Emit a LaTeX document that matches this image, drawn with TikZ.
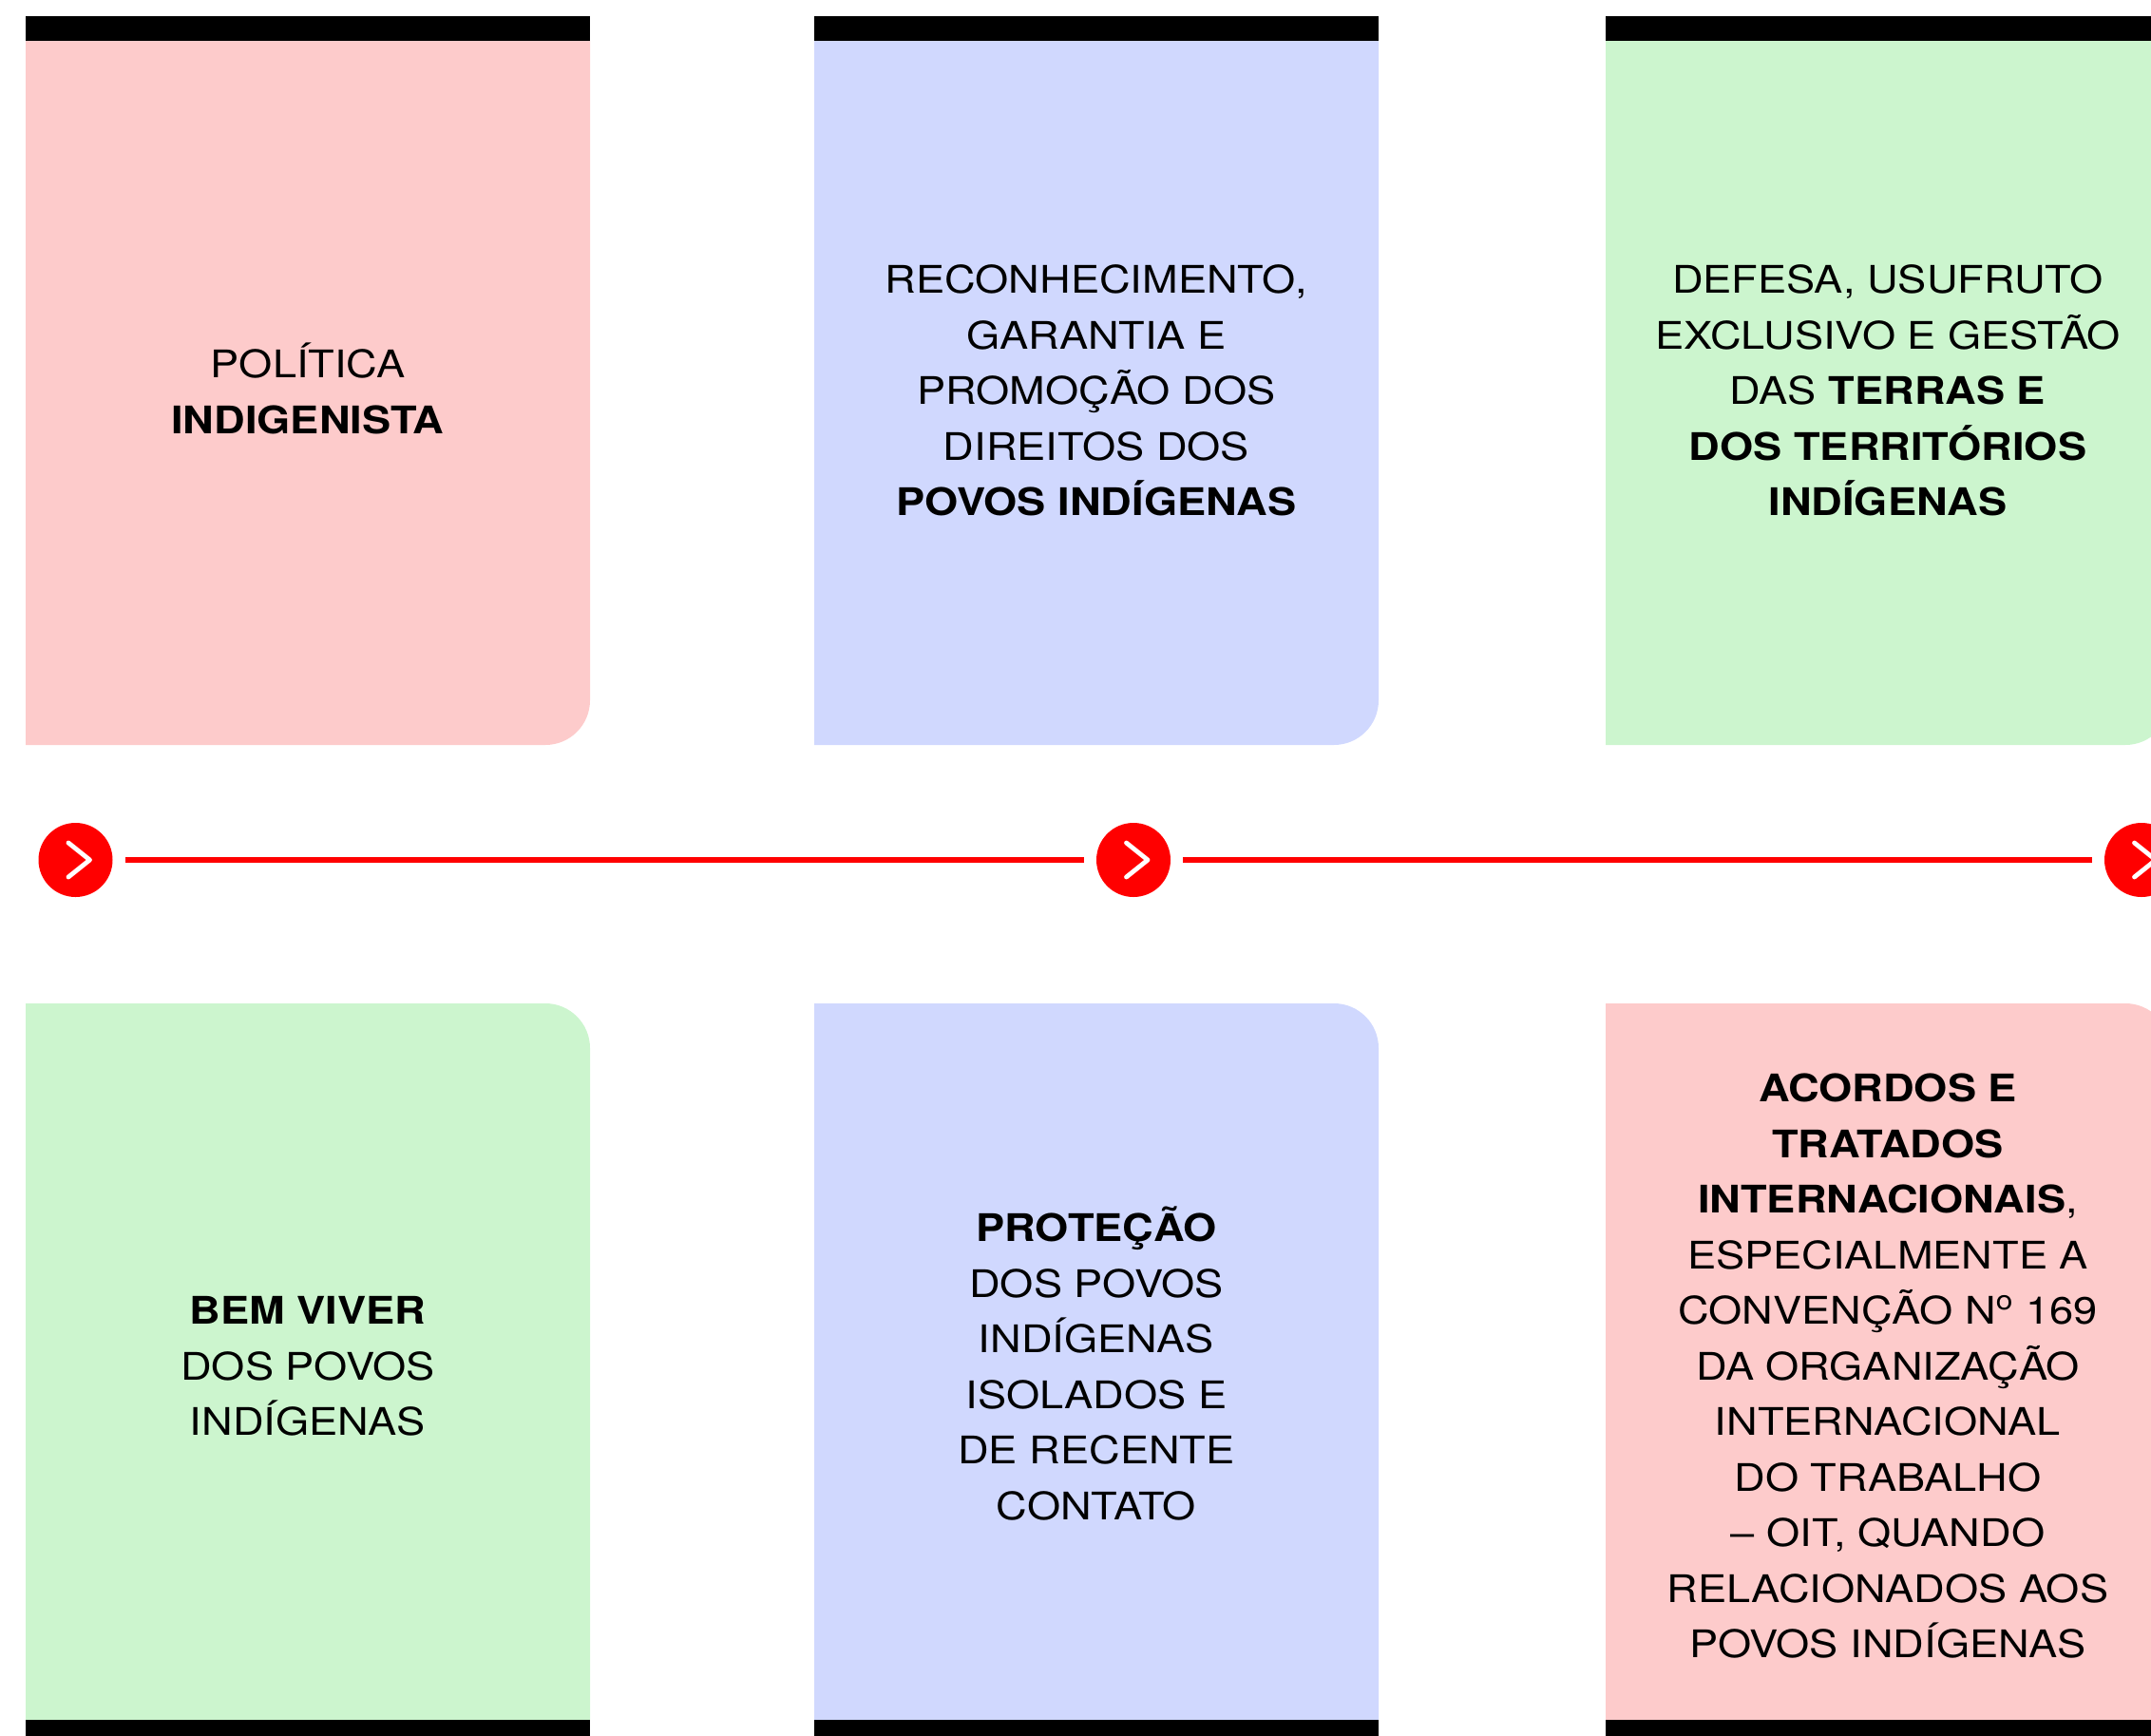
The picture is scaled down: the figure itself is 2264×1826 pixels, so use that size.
\documentclass[tikz,border=0pt]{standalone}
\usepackage{fontspec}
\setmainfont{TeX Gyre Heros}[FakeStretch=1.13]
\definecolor{boxpink}{RGB}{253,203,203}
\definecolor{boxblue}{RGB}{208,216,254}
\definecolor{boxgreen}{RGB}{204,245,206}
\definecolor{linered}{RGB}{255,0,0}
\tikzset{
  boxtext/.style={align=center,font=\fontsize{20}{29.25}\selectfont,inner sep=0pt},
  marker/.style={circle,fill=linered,minimum size=39pt,inner sep=0pt},
  timeline/.style={draw=linered,line width=2.65pt,shorten <=6.5pt,shorten >=6.5pt},
  chevron/.style={draw=white,line width=2.4pt,line cap=round,line join=round},
}
\begin{document}
\begin{tikzpicture}[x=0.5pt,y=0.5pt]
	\useasboundingbox (0,0) rectangle (2264,-1826);
	\clip (0,0) rectangle (2264,-1826);
	\foreach \x/\ctop/\cbot in {27/boxpink/boxgreen,857/boxblue/boxblue,1690/boxgreen/boxpink}{
		\fill[\ctop] (\x,-43) -- (\x+594,-43) -- (\x+594,-737) arc[start angle=0,end angle=-90,radius=23.5pt] -- (\x,-784) -- cycle;
		\fill[black] (\x,-17) rectangle (\x+594,-43);
		\fill[\cbot] (\x,-1810) -- (\x,-1056) -- (\x+547,-1056) arc[start angle=90,end angle=0,radius=23.5pt] -- (\x+594,-1810) -- cycle;
		\fill[black] (\x,-1810) rectangle (\x+594,-1850);
	}
	\node[boxtext](top1) at (324,-409){POLÍTICA\\\textbf{INDIGENISTA}};
	\node[boxtext](top2) at (1154,-411){RECONHECIMENTO,\\GARANTIA E\\PROMOÇÃO DOS\\DIREITOS DOS\\\textbf{POVOS INDÍGENAS}};
	\node[boxtext](top3) at (1987,-411){DEFESA, USUFRUTO\\EXCLUSIVO E GESTÃO\\DAS \textbf{TERRAS E}\\\textbf{DOS TERRITÓRIOS}\\\textbf{INDÍGENAS}};
	\node[boxtext](bot1) at (324,-1438){\textbf{BEM VIVER}\\DOS POVOS\\INDÍGENAS};
	\node[boxtext](bot2) at (1154,-1435){\textbf{PROTEÇÃO}\\DOS POVOS\\INDÍGENAS\\ISOLADOS E\\DE RECENTE\\CONTATO};
	\node[boxtext](bot3) at (1987,-1438){\textbf{ACORDOS E}\\\textbf{TRATADOS}\\\textbf{INTERNACIONAIS},\\ESPECIALMENTE A\\CONVENÇÃO N\textsuperscript{o} 169\\DA ORGANIZAÇÃO\\INTERNACIONAL\\DO TRABALHO\\– OIT, QUANDO\\RELACIONADOS AOS\\POVOS INDÍGENAS};
	\node[marker](m1) at (79.5,-905){};
	\node[marker](m2) at (1193,-905){};
	\node[marker](m3) at (2254,-905){};
	\draw[timeline](m1) -- (m2);
	\draw[timeline](m2) -- (m3);
	\foreach \m in {m1,m2,m3}
		\draw[chevron](\m.center) ++(-7.5,18) -- ++(22.5,-18) -- ++(-22.5,-18);
\end{tikzpicture}
\end{document}
